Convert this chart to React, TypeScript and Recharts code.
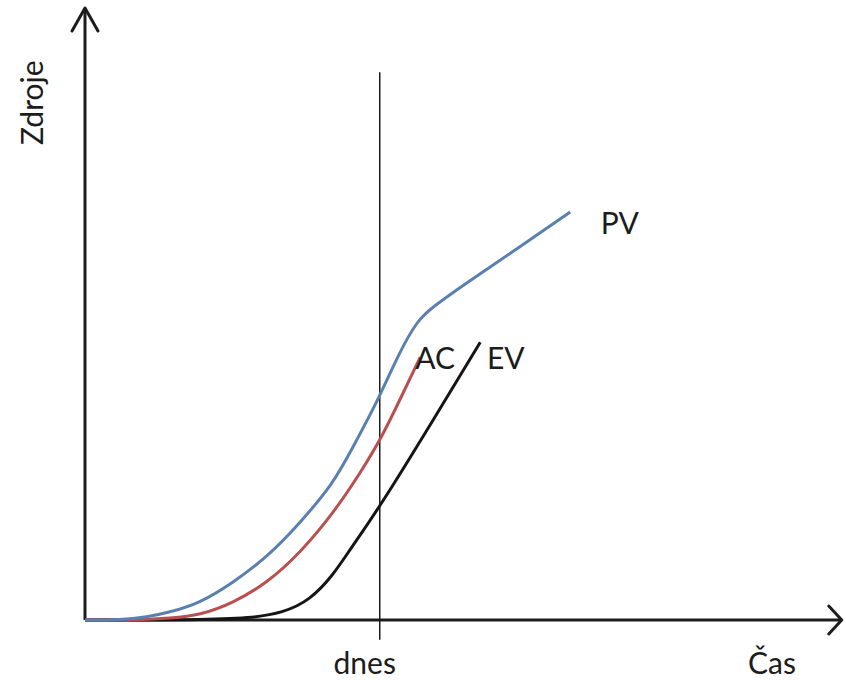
import { LineChart, Line, XAxis, YAxis, ReferenceLine, ReferenceDot } from "recharts";

// time / resource units
const pvTime = [0, 4.7, 8.3, 11.3, 15.3, 19.7, 24.3, 28.7, 33.1, 35.3, 39.3, 41.6, 44.3, 46.4, 50.9, 58, 64.7];
const pvCost = [0, 0, 0.5, 1.3, 2.8, 6.2, 10.5, 16.2, 22.8, 27.8, 37.2, 43.8, 50, 52.2, 56.2, 62.2, 68];

const acTime = [0, 7.3, 11.3, 15.3, 19.7, 24.3, 28.7, 33.1, 36.7, 39.6, 42.4, 44.7];
const acCost = [0, 0, 0.3, 0.8, 2.8, 6.2, 11.2, 17.8, 24.5, 30.5, 37.8, 43.8];

const evTime = [0, 15.3, 22, 26.4, 30, 33.1, 35.3, 39.3, 46.9, 52.7];
const evCost = [0, 0, 0.3, 1.2, 3.3, 7.5, 11.7, 18.8, 34.3, 46.3];

const today = 39.3;
const todayTop = 91.3;
const todayBottom = -3.3;

const labels = [
  { text: "PV", t: 71.3, v: 66.3 },
  { text: "AC", t: 46.7, v: 43.8 },
  { text: "EV", t: 56.1, v: 43.8 },
  { text: "dnes", t: 37.3, v: -7 },
  { text: "Čas", t: 91.6, v: -7 },
];

const toPoints = (ts: number[], vs: number[]) => ts.map((t, i) => ({ t, v: vs[i] }));

const pv = toPoints(pvTime, pvCost);
const ac = toPoints(acTime, acCost);
const ev = toPoints(evTime, evCost);

const font = "Lato, 'Open Sans', sans-serif";
const ink = "#1c1c1c";

function AxisArrow(props: any) {
  const { x1, y1, x2, y2, vertical } = props;
  const wings = vertical
    ? `M${x2 - 13},${y2 + 23} L${x2},${y2} L${x2 + 13},${y2 + 23}`
    : `M${x2 - 13},${y2 - 14} L${x2},${y2} L${x2 - 13},${y2 + 14}`;
  return (
    <g>
      <line x1={x1} y1={y1} x2={x2} y2={y2} stroke={ink} strokeWidth={3} />
      <path d={wings} fill="none" stroke={ink} strokeWidth={3} strokeLinecap="round" strokeLinejoin="round" />
    </g>
  );
}

export default function App() {
  return (
    <div style={{ position: "absolute", left: 0, top: 0, background: "#fff" }}>
      <LineChart width={846} height={680} margin={{ top: 5, right: 3.5, left: 85, bottom: 0 }}>
        <XAxis type="number" dataKey="t" domain={[0, 101]} hide />
        <YAxis type="number" domain={[-10, 102.5]} hide />

        <ReferenceLine
          segment={[{ x: 0, y: 0 }, { x: 100.9, y: 0 }]}
          ifOverflow="visible"
          shape={(p: any) => <AxisArrow {...p} />}
        />
        <ReferenceLine
          segment={[{ x: 0, y: 0 }, { x: 0, y: 102 }]}
          ifOverflow="visible"
          shape={(p: any) => <AxisArrow {...p} vertical />}
        />
        <ReferenceLine
          segment={[{ x: today, y: todayBottom }, { x: today, y: todayTop }]}
          ifOverflow="visible"
          stroke={ink}
          strokeWidth={1.5}
        />

        <Line data={ev} dataKey="v" type="basis" stroke="#151515" strokeWidth={3} dot={false} isAnimationActive={false} />
        <Line data={ac} dataKey="v" type="basis" stroke="#b9504f" strokeWidth={3} dot={false} isAnimationActive={false} />
        <Line data={pv} dataKey="v" type="basis" stroke="#5b80b0" strokeWidth={3} dot={false} isAnimationActive={false} />

        {labels.map((l) => (
          <ReferenceDot
            key={l.text}
            x={l.t}
            y={l.v}
            ifOverflow="visible"
            shape={(p: any) => (
              <text
                x={p.cx}
                y={p.cy}
                textAnchor="middle"
                dominantBaseline="central"
                fontFamily={font}
                fontSize={30}
                fill={ink}
              >
                {l.text}
              </text>
            )}
          />
        ))}
        <ReferenceDot
          x={-7.2}
          y={86.2}
          ifOverflow="visible"
          shape={(p: any) => (
            <text
              x={p.cx}
              y={p.cy}
              transform={`rotate(-90 ${p.cx} ${p.cy})`}
              textAnchor="middle"
              dominantBaseline="central"
              fontFamily={font}
              fontSize={30}
              fill={ink}
            >
              Zdroje
            </text>
          )}
        />
      </LineChart>
    </div>
  );
}
